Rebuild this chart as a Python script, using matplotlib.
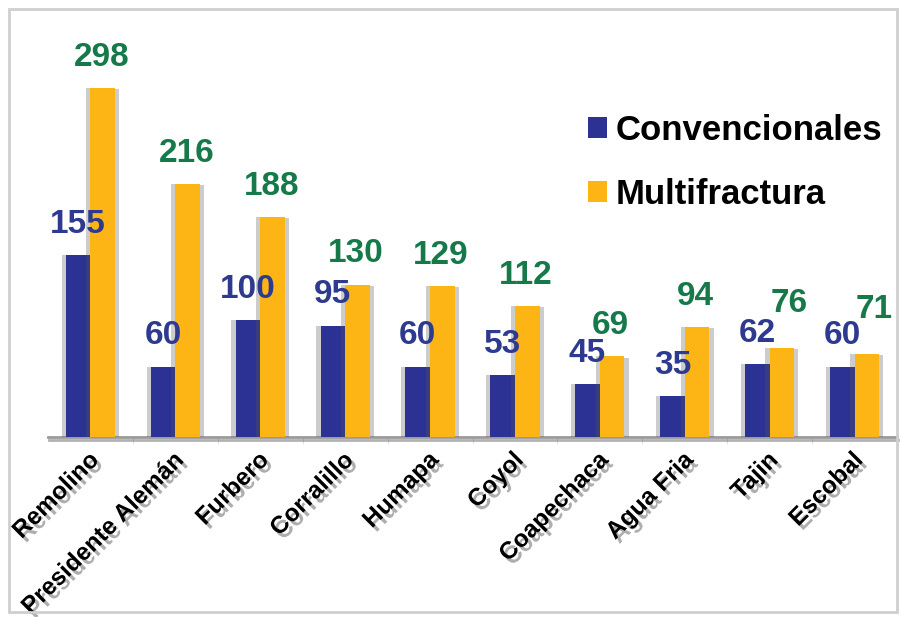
import numpy as np
import matplotlib.pyplot as plt
import matplotlib.patheffects as pe
import matplotlib.transforms as mtransforms
from matplotlib.patches import Patch, Rectangle

campos = ['Remolino', 'Presidente Alemán', 'Furbero', 'Corralillo', 'Humapa',
          'Coyol', 'Coapechaca', 'Agua Fria', 'Tajin', 'Escobal']
convencionales = [155, 60, 100, 95, 60, 53, 45, 35, 62, 60]
multifractura = [298, 216, 188, 130, 129, 112, 69, 94, 76, 71]

azul = '#2B3293'
naranja = '#FDB515'
txt_azul = '#2E3A8F'
txt_verde = '#16794A'

# desplazamiento extra (pt) de las etiquetas verdes para que no choquen
extra_dx = [0, 0, 0, 0, 0, 0, 0, 0, 6, 6]
extra_dy = [0, 0, 0, 0, 0, 0, 0, 0, 10, 10]

plt.rcParams['font.family'] = ['Liberation Sans', 'DejaVu Sans']
plt.rcParams['font.weight'] = 'bold'

fig = plt.figure(figsize=(9.01, 6.17), dpi=100)
ax = fig.add_axes([48 / 901, (617 - 437) / 617, (897 - 48) / 901, (437 - 20) / 617])

# marco exterior
fig.patches.append(Rectangle((9 / 901, 5 / 617), 888 / 901, 603 / 617,
                             transform=fig.transFigure, fill=False,
                             edgecolor='#cfcfcf', lw=2))

x = np.arange(len(campos))
w = 0.29

sombra = [pe.SimplePatchShadow(offset=(-3, 0), shadow_rgbFace='0.35', alpha=0.3),
          pe.SimplePatchShadow(offset=(3, -1), shadow_rgbFace='0.35', alpha=0.3),
          pe.Normal()]

b1 = ax.bar(x - w / 2, convencionales, w, color=azul, zorder=3)
b2 = ax.bar(x + w / 2, multifractura, w, color=naranja, zorder=3)
for b in list(b1) + list(b2):
    b.set_path_effects(sombra)

for i in range(len(campos)):
    ax.annotate(str(convencionales[i]), (x[i] - w / 2, convencionales[i]),
                xytext=(0, 11), textcoords='offset points', ha='center', va='bottom',
                fontsize=24, fontweight='bold', color=txt_azul)
    ax.annotate(str(multifractura[i]), (x[i] + w / 2, multifractura[i]),
                xytext=(extra_dx[i] - 1, 11 + extra_dy[i]), textcoords='offset points',
                ha='center', va='bottom', fontsize=24, fontweight='bold', color=txt_verde)

ax.set_xlim(-0.5, 9.4)
ax.set_ylim(0, 356)

for s in ['top', 'right', 'left']:
    ax.spines[s].set_visible(False)
ax.spines['bottom'].set_color('#9a9a9a')
ax.spines['bottom'].set_linewidth(2)
ax.spines['bottom'].set_path_effects([pe.SimpleLineShadow(offset=(1, -2), alpha=0.3), pe.Normal()])
ax.set_yticks([])

ax.set_xticks(x)
ax.set_xticks(x + 0.5, minor=True)
ax.tick_params(axis='x', which='major', length=0, pad=14)
ax.tick_params(axis='x', which='minor', length=5, color='#dddddd')
ax.set_xticklabels(campos, rotation=45, ha='right', va='center',
                   rotation_mode='anchor', fontsize=17.5, fontweight='bold')
corrimiento = mtransforms.ScaledTranslation(5 / 100, 0, fig.dpi_scale_trans)
for t in ax.get_xticklabels():
    t.set_transform(t.get_transform() + corrimiento)
    t.set_path_effects([pe.withSimplePatchShadow(offset=(3, -3), shadow_rgbFace='0.3', alpha=0.45)])

handles = [Patch(facecolor=azul, label='Convencionales'),
           Patch(facecolor=naranja, label='Multifractura')]
leg = ax.legend(handles=handles, loc='upper left', bbox_to_anchor=(574 / 901, 1 - 100 / 617),
                bbox_transform=fig.transFigure, frameon=False,
                prop={'size': 25, 'weight': 'bold'}, handlelength=0.55, handleheight=0.55,
                handletextpad=0.25, labelspacing=0.9, borderaxespad=0)

fig.savefig('out.png', dpi=100)
